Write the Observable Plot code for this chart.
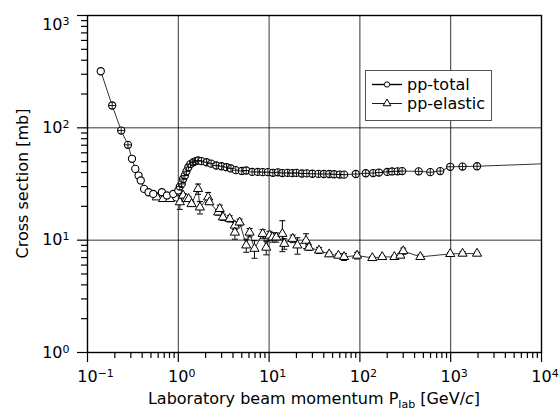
<!DOCTYPE html>
<html><head><meta charset="utf-8">
<script src="https://cdn.jsdelivr.net/npm/d3@7"></script>
<script src="https://cdn.jsdelivr.net/npm/@observablehq/plot@0.6"></script>
<style>
body{margin:0;background:#fff}
svg{font-family:"DejaVu Sans",sans-serif}
</style>
</head><body><div id="chart"></div>
<script>
// pp total cross section, open circles (GeV/c, mb)
const totalOpenP = [0.14, 0.309, 0.336, 0.365, 0.386, 0.42, 0.47, 0.53, 0.66, 0.75, 0.88, 1.0];
const totalOpenS = [319, 53, 43.1, 37.6, 34, 28.6, 26.7, 25.8, 26.7, 25, 25.8, 27.7];
// pp total cross section, crossed circles
const totalCrossP = [0.187, 0.235, 0.279,
  1.04, 1.09, 1.13, 1.18, 1.23, 1.29, 1.36, 1.46, 1.55, 1.65, 1.8, 2.05, 2.3, 2.62, 3.0, 3.4, 3.8,
  4.3, 5.0, 5.6, 6.5, 7.5, 8.5, 9.7, 11, 12.5, 14, 16, 18, 20, 23, 26, 30, 35, 40, 46, 52, 60, 67,
  90, 116, 140, 162, 200, 226, 260, 292, 444, 596, 767, 988, 1350, 1950];
const totalCrossS = [158, 94.6, 70.6,
  30, 31.7, 35, 37.6, 41, 44.6, 47.5, 49.4, 50.5, 51.2, 50.5, 49.4, 48, 46.2, 45.5, 44.6, 43.5,
  42, 41.3, 41.7, 40.5, 40.5, 40.3, 40.3, 39.8, 40.2, 39.6, 39.7, 39.5, 39.7, 39.2, 39.3, 39, 38.9, 38.8, 38.8, 38.6, 38.4, 38.3,
  38.8, 39.4, 39.6, 40, 40.5, 40.9, 41, 41.2, 41, 40.3, 41.2, 45, 45.2, 45.5];
// fitted curve continuation of total cross section
const fitP = [1950, 10000];
const fitS = [45.5, 47.8];
// pp elastic cross section (triangles) with error
const elasticP = [0.58, 0.68, 0.81, 1.04, 1.13, 1.23, 1.3, 1.4, 1.65, 1.73, 2.13, 2.2, 2.75, 2.86, 3.1, 3.68, 4.2, 4.2, 4.74,
  5.6, 6.1, 6.9, 8.5, 9.3, 10.1, 10.9, 12, 14, 14.7, 18.2, 20.5, 25.5, 27.5, 35.5, 45.9, 58, 67, 93, 137, 176, 240, 279, 300,
  463, 988, 1350, 1950];
const elasticS = [24.1, 23.3, 23.3, 21.8, 25, 23.3, 23.3, 21, 28.6, 19.6, 24.1, 21.8, 17.7, 19, 16, 15.5, 13.5, 11.7, 14.4,
  9.0, 11.7, 8.4, 11.4, 8.6, 11, 10.6, 10.6, 11.4, 9.3, 10.3, 9, 9.9, 8.6, 8.1, 7.5, 7.3, 7.1, 7.3, 6.95, 7.1, 7.1, 7.3, 8.0,
  7.1, 7.55, 7.6, 7.6];
const elasticE = [0, 0, 0, 3, 1, 1, 1, 1, 3, 2.5, 2.5, 1, 1, 1.5, 1, 1, 1, 1.5, 1,
  1.2, 1, 1.5, 1, 1.2, 1, 1, 1, 3.5, 1, 0.8, 1.5, 1.5, 0.5, 0.5, 0.3, 0.3, 0.5, 0.5, 0.2, 0.2, 0.2, 0.3, 0.5,
  0.3, 0.2, 0.3, 0.2];
// tick values
const xDecades = [0.1, 1, 10, 100, 1000, 10000];
const yDecades = [1, 10, 100, 1000];
const seriesNames = ["pp-total", "pp-elastic"];

const totalOpen = totalOpenP.map((p, i) => ({p, s: totalOpenS[i]}));
const totalCross = totalCrossP.map((p, i) => ({p, s: totalCrossS[i]}));
const totalAll = [...totalOpen, ...totalCross].sort((a, b) => a.p - b.p);
const fit = fitP.map((p, i) => ({p, s: fitS[i]}));
const elastic = elasticP.map((p, i) => ({p, s: elasticS[i], e: elasticE[i]}));
const elasticErr = elastic.filter(d => d.e > 0);

const minorX = d3.range(-1, 4).flatMap(e => d3.range(2, 10).map(m => m * 10 ** e));
const minorY = d3.range(0, 3).flatMap(e => d3.range(2, 10).map(m => m * 10 ** e));
const fmt = d => "10^" + Math.round(Math.log10(d));

const capSymbol = {draw(ctx, size) { const r = Math.sqrt(size / Math.PI); ctx.moveTo(-r, 0); ctx.lineTo(r, 0); }};
const crossSymbol = {draw(ctx, size) { const r = Math.sqrt(size / Math.PI); ctx.moveTo(-r, 0); ctx.lineTo(r, 0); ctx.moveTo(0, -r); ctx.lineTo(0, r); }};

const chart = Plot.plot({
  width: 559, height: 417,
  marginLeft: 87, marginRight: 18, marginTop: 15, marginBottom: 65,
  style: {fontFamily: "DejaVu Sans", fontSize: "16px", color: "black", background: "white"},
  x: {type: "log", domain: [0.1, 10000]},
  y: {type: "log", domain: [1, 1000]},
  marks: [
    Plot.gridX([1, 10, 100, 1000], {stroke: "#000", strokeOpacity: 0.8, strokeWidth: 1}),
    Plot.gridY([10, 100], {stroke: "#000", strokeOpacity: 0.8, strokeWidth: 1}),
    Plot.axisX({ticks: xDecades, tickSize: 10, tickPadding: 8, tickFormat: fmt, label: null, strokeWidth: 1.2}),
    Plot.axisX({ticks: minorX, tickSize: 6, tickFormat: () => "", label: null, strokeWidth: 1.2}),
    Plot.axisY({ticks: yDecades, tickSize: 10, tickPadding: 8, tickFormat: fmt, label: null, strokeWidth: 1.2}),
    Plot.axisY({ticks: minorY, tickSize: 6, tickFormat: () => "", label: null, strokeWidth: 1.2}),
    Plot.frame({stroke: "#000", strokeWidth: 1.4}),
    Plot.line(totalAll, {x: "p", y: "s", stroke: "#000", strokeWidth: 0.8}),
    Plot.line(fit, {x: "p", y: "s", stroke: "#000", strokeWidth: 0.8}),
    Plot.line(elastic, {x: "p", y: "s", stroke: "#000", strokeWidth: 0.8}),
    Plot.ruleX(elasticErr, {x: "p", y1: d => d.s - d.e, y2: d => d.s + d.e, stroke: "#000", strokeWidth: 1}),
    Plot.dot(elasticErr, {x: "p", y: d => d.s - d.e, symbol: capSymbol, r: 3, fill: "none", stroke: "#000", strokeWidth: 1}),
    Plot.dot(elasticErr, {x: "p", y: d => d.s + d.e, symbol: capSymbol, r: 3, fill: "none", stroke: "#000", strokeWidth: 1}),
    Plot.dot(elastic, {x: "p", y: "s", symbol: "triangle", r: 3.4, fill: "white", stroke: "#000", strokeWidth: 1}),
    Plot.dot(totalOpen, {x: "p", y: "s", r: 3.6, fill: "white", stroke: "#000", strokeWidth: 1.1}),
    Plot.dot(totalCross, {x: "p", y: "s", r: 3.6, fill: "white", stroke: "#000", strokeWidth: 1.1}),
    Plot.dot(totalCross, {x: "p", y: "s", symbol: crossSymbol, r: 3.6, fill: "none", stroke: "#000", strokeWidth: 0.9})
  ]
});
document.getElementById("chart").appendChild(chart);

const svg = d3.select(chart);
// superscript tick labels
svg.selectAll("text").each(function() {
  const t = this.textContent;
  const m = /^10\^(-?\d+)$/.exec(t);
  if (!m) return;
  const g = this.closest("g[aria-label]");
  const isX = g && g.getAttribute("aria-label").startsWith("x");
  const el = d3.select(this);
  el.text("10");
  el.append("tspan").attr("dy", "-0.45em").attr("font-size", "11px").text(m[1].replace("-", "\u2212"));
  if (isX) {
    el.attr("text-anchor", "start").attr("dx", -10.2);
  } else {
    el.attr("text-anchor", "end");
    if (m[1] === "3") el.attr("dy", 9.6);
  }
});

// axis titles
svg.append("text")
  .attr("transform", "translate(28,183.5) rotate(-90)")
  .attr("text-anchor", "middle").attr("font-size", 16).attr("fill", "#000")
  .text("Cross section [mb]");
const xl = svg.append("text")
  .attr("x", 314).attr("y", 404)
  .attr("text-anchor", "middle").attr("font-size", 16).attr("fill", "#000");
xl.append("tspan").text("Laboratory beam momentum P");
xl.append("tspan").attr("font-size", 11).attr("dy", 4).text("lab");
xl.append("tspan").attr("dy", -4).text(" [GeV/");
xl.append("tspan").attr("font-style", "italic").text("c");
xl.append("tspan").text("]");

// legend
const lg = svg.append("g").attr("text-anchor", "start");
lg.append("rect").attr("x", 365.5).attr("y", 70.5).attr("width", 126).attr("height", 50)
  .attr("fill", "white").attr("stroke", "#555").attr("stroke-width", 1);
const rows = [{y: 84.5, sym: "circle"}, {y: 103.5, sym: "triangle"}];
rows.forEach((r, i) => {
  lg.append("line").attr("x1", 372).attr("x2", 402).attr("y1", r.y).attr("y2", r.y)
    .attr("stroke", "#000").attr("stroke-width", i === 0 ? 1.4 : 0.9);
  const sym = r.sym === "circle" ? d3.symbolCircle : d3.symbolTriangle;
  lg.append("path").attr("d", d3.symbol(sym, r.sym === "circle" ? 22 : 26)())
    .attr("transform", `translate(387,${r.y})`)
    .attr("fill", "white").attr("stroke", "#000").attr("stroke-width", 1);
  lg.append("text").attr("x", 407).attr("y", r.y + 5.5).attr("font-size", 16).attr("fill", "#000")
    .attr("text-anchor", "start")
    .text(seriesNames[i]);
});
</script>
</body></html>
